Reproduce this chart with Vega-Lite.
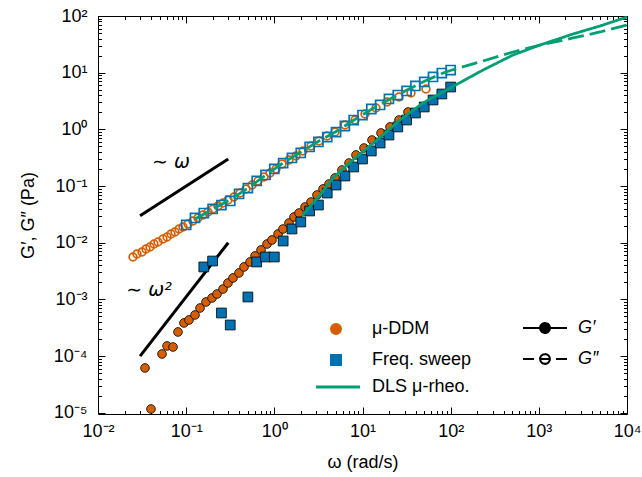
{
  "$schema": "https://vega.github.io/schema/vega-lite/v6.json",
  "width": 529,
  "height": 398,
  "autosize": "none",
  "padding": {"left": 98, "top": 16, "right": 15, "bottom": 63},
  "background": "white",
  "config": {
    "view": {"stroke": "black", "strokeWidth": 1},
    "font": "Liberation Sans",
    "axis": {"grid": false, "domain": false, "tickColor": "black", "tickWidth": 1, "labelColor": "black", "titleColor": "black", "labelFont": "Liberation Sans", "titleFont": "Liberation Sans", "titleFontWeight": "normal"}
  },
  "data": {"values": [
    {"s":"guide","m":"w1","w":0.03,"g":0.03},{"s":"guide","m":"w1","w":0.3,"g":0.3},
    {"s":"guide","m":"w2","w":0.03,"g":0.0001},{"s":"guide","m":"w2","w":0.3,"g":0.01},
    {"s":"label","t":"∼ ω","w":0.0673,"g":0.266},{"s":"label","t":"∼ ω²","w":0.0379,"g":0.00147},
    {"s":"μ-DDM","m":"G″","w":0.02495,"g":0.005598},{"s":"μ-DDM","m":"G″","w":0.02767,"g":0.006324},{"s":"μ-DDM","m":"G″","w":0.03155,"g":0.006855},{"s":"μ-DDM","m":"G″","w":0.03499,"g":0.007745},{"s":"μ-DDM","m":"G″","w":0.0389,"g":0.008395},{"s":"μ-DDM","m":"G″","w":0.04315,"g":0.009484},{"s":"μ-DDM","m":"G″","w":0.04786,"g":0.0103},{"s":"μ-DDM","m":"G″","w":0.05458,"g":0.01164},{"s":"μ-DDM","m":"G″","w":0.06067,"g":0.01262},{"s":"μ-DDM","m":"G″","w":0.0673,"g":0.01426},{"s":"μ-DDM","m":"G″","w":0.07464,"g":0.01545},{"s":"μ-DDM","m":"G″","w":0.08299,"g":0.01746},{"s":"μ-DDM","m":"G″","w":0.09204,"g":0.01892},{"s":"μ-DDM","m":"G″","w":0.105,"g":0.02138},{"s":"μ-DDM","m":"G″","w":0.1194,"g":0.02415},{"s":"μ-DDM","m":"G″","w":0.1361,"g":0.02729},{"s":"μ-DDM","m":"G″","w":0.1552,"g":0.03083},{"s":"μ-DDM","m":"G″","w":0.177,"g":0.03483},{"s":"μ-DDM","m":"G″","w":0.2014,"g":0.03936},{"s":"μ-DDM","m":"G″","w":0.2296,"g":0.04446},{"s":"μ-DDM","m":"G″","w":0.2618,"g":0.05023},{"s":"μ-DDM","m":"G″","w":0.2979,"g":0.05675},{"s":"μ-DDM","m":"G″","w":0.3483,"g":0.06412},{"s":"μ-DDM","m":"G″","w":0.4083,"g":0.07534},{"s":"μ-DDM","m":"G″","w":0.4775,"g":0.08872},{"s":"μ-DDM","m":"G″","w":0.5585,"g":0.1042},{"s":"μ-DDM","m":"G″","w":0.6531,"g":0.1227},{"s":"μ-DDM","m":"G″","w":0.7638,"g":0.1442},{"s":"μ-DDM","m":"G″","w":0.8933,"g":0.1698},{"s":"μ-DDM","m":"G″","w":1.045,"g":0.2},{"s":"μ-DDM","m":"G″","w":1.222,"g":0.2449},{"s":"μ-DDM","m":"G″","w":1.466,"g":0.2877},{"s":"μ-DDM","m":"G″","w":1.762,"g":0.3388},{"s":"μ-DDM","m":"G″","w":2.113,"g":0.415},{"s":"μ-DDM","m":"G″","w":2.606,"g":0.5082},{"s":"μ-DDM","m":"G″","w":3.214,"g":0.6237},{"s":"μ-DDM","m":"G″","w":3.954,"g":0.7638},{"s":"μ-DDM","m":"G″","w":4.875,"g":0.8974},{"s":"μ-DDM","m":"G″","w":6.324,"g":1.194},{"s":"μ-DDM","m":"G″","w":8.222,"g":1.462},{"s":"μ-DDM","m":"G″","w":10.67,"g":1.866},{"s":"μ-DDM","m":"G″","w":14.22,"g":2.382},{"s":"μ-DDM","m":"G″","w":18.97,"g":3.041},{"s":"μ-DDM","m":"G″","w":25.94,"g":3.724},{"s":"μ-DDM","m":"G″","w":35.48,"g":4.385},{"s":"μ-DDM","m":"G″","w":52.48,"g":5.152},
    {"s":"μ-DDM","m":"G′","w":0.03412,"g":0.00006166},{"s":"μ-DDM","m":"G′","w":0.0399,"g":0.00001164},{"s":"μ-DDM","m":"G′","w":0.05321,"g":0.0001089},{"s":"μ-DDM","m":"G′","w":0.06067,"g":0.0001507},{"s":"μ-DDM","m":"G′","w":0.07096,"g":0.0001445},{"s":"μ-DDM","m":"G′","w":0.08072,"g":0.0002661},{"s":"μ-DDM","m":"G′","w":0.09441,"g":0.0003837},{"s":"μ-DDM","m":"G′","w":0.1076,"g":0.0004335},{"s":"μ-DDM","m":"G′","w":0.1259,"g":0.0005309},{"s":"μ-DDM","m":"G′","w":0.1436,"g":0.0007047},{"s":"μ-DDM","m":"G′","w":0.1679,"g":0.0008995},{"s":"μ-DDM","m":"G′","w":0.1963,"g":0.001059},{"s":"μ-DDM","m":"G′","w":0.2239,"g":0.001245},{"s":"μ-DDM","m":"G′","w":0.2618,"g":0.001524},{"s":"μ-DDM","m":"G′","w":0.2979,"g":0.001945},{"s":"μ-DDM","m":"G′","w":0.3396,"g":0.002388},{"s":"μ-DDM","m":"G′","w":0.3972,"g":0.002924},{"s":"μ-DDM","m":"G′","w":0.4529,"g":0.003733},{"s":"μ-DDM","m":"G′","w":0.5297,"g":0.004571},{"s":"μ-DDM","m":"G′","w":0.6039,"g":0.005834},{"s":"μ-DDM","m":"G′","w":0.7063,"g":0.007447},{"s":"μ-DDM","m":"G′","w":0.826,"g":0.009484},{"s":"μ-DDM","m":"G′","w":0.9397,"g":0.01117},{"s":"μ-DDM","m":"G′","w":1.102,"g":0.01426},{"s":"μ-DDM","m":"G′","w":1.253,"g":0.01746},{"s":"μ-DDM","m":"G′","w":1.466,"g":0.02228},{"s":"μ-DDM","m":"G′","w":1.671,"g":0.02844},{"s":"μ-DDM","m":"G′","w":1.905,"g":0.03342},{"s":"μ-DDM","m":"G′","w":2.228,"g":0.04266},{"s":"μ-DDM","m":"G′","w":2.606,"g":0.05224},{"s":"μ-DDM","m":"G′","w":3.048,"g":0.0695},{"s":"μ-DDM","m":"G′","w":3.565,"g":0.08872},{"s":"μ-DDM","m":"G′","w":4.169,"g":0.1086},{"s":"μ-DDM","m":"G′","w":4.875,"g":0.1387},{"s":"μ-DDM","m":"G′","w":5.848,"g":0.1919},{"s":"μ-DDM","m":"G′","w":7.031,"g":0.2547},{"s":"μ-DDM","m":"G′","w":8.433,"g":0.3532},{"s":"μ-DDM","m":"G′","w":10.4,"g":0.4688},{"s":"μ-DDM","m":"G′","w":12.82,"g":0.6486},{"s":"μ-DDM","m":"G′","w":16.22,"g":0.863},{"s":"μ-DDM","m":"G′","w":20.51,"g":1.102},{"s":"μ-DDM","m":"G′","w":25.94,"g":1.462},{"s":"μ-DDM","m":"G′","w":32.81,"g":2.023},
    {"s":"Freq. sweep","m":"G″","w":0.1,"g":0.02056},{"s":"Freq. sweep","m":"G″","w":0.1259,"g":0.02729},{"s":"Freq. sweep","m":"G″","w":0.1585,"g":0.03342},{"s":"Freq. sweep","m":"G″","w":0.1995,"g":0.03936},{"s":"Freq. sweep","m":"G″","w":0.2512,"g":0.04624},{"s":"Freq. sweep","m":"G″","w":0.3162,"g":0.05445},{"s":"Freq. sweep","m":"G″","w":0.3981,"g":0.07244},{"s":"Freq. sweep","m":"G″","w":0.5012,"g":0.09226},{"s":"Freq. sweep","m":"G″","w":0.631,"g":0.1227},{"s":"Freq. sweep","m":"G″","w":0.7943,"g":0.1567},{"s":"Freq. sweep","m":"G″","w":1,"g":0.2},{"s":"Freq. sweep","m":"G″","w":1.259,"g":0.2547},{"s":"Freq. sweep","m":"G″","w":1.585,"g":0.3126},{"s":"Freq. sweep","m":"G″","w":1.995,"g":0.3828},{"s":"Freq. sweep","m":"G″","w":2.512,"g":0.4887},{"s":"Freq. sweep","m":"G″","w":3.162,"g":0.5984},{"s":"Freq. sweep","m":"G″","w":3.981,"g":0.7328},{"s":"Freq. sweep","m":"G″","w":5.012,"g":0.8974},{"s":"Freq. sweep","m":"G″","w":6.31,"g":1.146},{"s":"Freq. sweep","m":"G″","w":7.943,"g":1.462},{"s":"Freq. sweep","m":"G″","w":10,"g":1.791},{"s":"Freq. sweep","m":"G″","w":12.59,"g":2.286},{"s":"Freq. sweep","m":"G″","w":15.85,"g":2.692},{"s":"Freq. sweep","m":"G″","w":19.95,"g":3.436},{"s":"Freq. sweep","m":"G″","w":25.12,"g":4.036},{"s":"Freq. sweep","m":"G″","w":31.62,"g":4.753},{"s":"Freq. sweep","m":"G″","w":39.81,"g":5.821},{"s":"Freq. sweep","m":"G″","w":50.12,"g":6.855},{"s":"Freq. sweep","m":"G″","w":63.1,"g":8.395},{"s":"Freq. sweep","m":"G″","w":79.43,"g":9.863},{"s":"Freq. sweep","m":"G″","w":100,"g":11.14},
    {"s":"Freq. sweep","m":"G′","w":0.1585,"g":0.003733},{"s":"Freq. sweep","m":"G′","w":0.1995,"g":0.004753},{"s":"Freq. sweep","m":"G′","w":0.2512,"g":0.0005754},{"s":"Freq. sweep","m":"G′","w":0.3162,"g":0.0003532},{"s":"Freq. sweep","m":"G′","w":0.5012,"g":0.001102},{"s":"Freq. sweep","m":"G′","w":0.631,"g":0.004571},{"s":"Freq. sweep","m":"G′","w":0.7943,"g":0.005598},{"s":"Freq. sweep","m":"G′","w":1,"g":0.005598},{"s":"Freq. sweep","m":"G′","w":1.259,"g":0.01072},{"s":"Freq. sweep","m":"G′","w":1.585,"g":0.01746},{"s":"Freq. sweep","m":"G′","w":1.995,"g":0.02323},{"s":"Freq. sweep","m":"G′","w":2.512,"g":0.03631},{"s":"Freq. sweep","m":"G′","w":3.162,"g":0.04624},{"s":"Freq. sweep","m":"G′","w":3.981,"g":0.07534},{"s":"Freq. sweep","m":"G′","w":5.012,"g":0.1042},{"s":"Freq. sweep","m":"G′","w":6.31,"g":0.1503},{"s":"Freq. sweep","m":"G′","w":7.943,"g":0.2168},{"s":"Freq. sweep","m":"G′","w":10,"g":0.2999},{"s":"Freq. sweep","m":"G′","w":12.59,"g":0.415},{"s":"Freq. sweep","m":"G′","w":15.85,"g":0.5741},{"s":"Freq. sweep","m":"G′","w":19.95,"g":0.7943},{"s":"Freq. sweep","m":"G′","w":25.12,"g":1.102},{"s":"Freq. sweep","m":"G′","w":31.62,"g":1.462},{"s":"Freq. sweep","m":"G′","w":39.81,"g":1.945},{"s":"Freq. sweep","m":"G′","w":50.12,"g":2.483},{"s":"Freq. sweep","m":"G′","w":63.1,"g":3.296},{"s":"Freq. sweep","m":"G′","w":79.43,"g":4.207},{"s":"Freq. sweep","m":"G′","w":100,"g":5.585},
    {"s":"DLS μ-rheo.","m":"G′","w":2.061,"g":0.02958},{"s":"DLS μ-rheo.","m":"G′","w":2.344,"g":0.03776},{"s":"DLS μ-rheo.","m":"G′","w":3.296,"g":0.0695},{"s":"DLS μ-rheo.","m":"G′","w":4.624,"g":0.1387},{"s":"DLS μ-rheo.","m":"G′","w":8.222,"g":0.3126},{"s":"DLS μ-rheo.","m":"G′","w":14.59,"g":0.6486},{"s":"DLS μ-rheo.","m":"G′","w":26.61,"g":1.462},{"s":"DLS μ-rheo.","m":"G′","w":48.53,"g":2.917},{"s":"DLS μ-rheo.","m":"G′","w":103.5,"g":5.585},{"s":"DLS μ-rheo.","m":"G′","w":232.8,"g":11.14},{"s":"DLS μ-rheo.","m":"G′","w":509.3,"g":20.51},{"s":"DLS μ-rheo.","m":"G′","w":1030,"g":30.76},{"s":"DLS μ-rheo.","m":"G′","w":2438,"g":48.08},{"s":"DLS μ-rheo.","m":"G′","w":4943,"g":66.68},{"s":"DLS μ-rheo.","m":"G′","w":10000,"g":95.94},
    {"s":"DLS μ-rheo.","m":"G″","w":0.1259,"g":0.02624},{"s":"DLS μ-rheo.","m":"G″","w":0.2014,"g":0.03936},{"s":"DLS μ-rheo.","m":"G″","w":0.3141,"g":0.05675},{"s":"DLS μ-rheo.","m":"G″","w":0.5023,"g":0.09226},{"s":"DLS μ-rheo.","m":"G″","w":0.8035,"g":0.1567},{"s":"DLS μ-rheo.","m":"G″","w":1.253,"g":0.2547},{"s":"DLS μ-rheo.","m":"G″","w":2.004,"g":0.399},{"s":"DLS μ-rheo.","m":"G″","w":3.214,"g":0.6237},{"s":"DLS μ-rheo.","m":"G″","w":5.14,"g":0.9354},{"s":"DLS μ-rheo.","m":"G″","w":8,"g":1.462},{"s":"DLS μ-rheo.","m":"G″","w":12.82,"g":2.286},{"s":"DLS μ-rheo.","m":"G″","w":20.51,"g":3.436},{"s":"DLS μ-rheo.","m":"G″","w":31.99,"g":4.943},{"s":"DLS μ-rheo.","m":"G″","w":51.17,"g":7.129},{"s":"DLS μ-rheo.","m":"G″","w":81.85,"g":9.863},{"s":"DLS μ-rheo.","m":"G″","w":103.5,"g":11.14},{"s":"DLS μ-rheo.","m":"G″","w":232.8,"g":16.07},{"s":"DLS μ-rheo.","m":"G″","w":509.3,"g":23.17},{"s":"DLS μ-rheo.","m":"G″","w":1030,"g":30.76},{"s":"DLS μ-rheo.","m":"G″","w":2438,"g":40.93},{"s":"DLS μ-rheo.","m":"G″","w":4943,"g":52.24},{"s":"DLS μ-rheo.","m":"G″","w":10000,"g":69.34}
  ]},
  "resolve": {"axis": {"x": "independent", "y": "independent"}},
  "layer": [
    {
      "transform": [{"filter": "datum.s === 'guide'"}],
      "mark": {"type": "line", "color": "black", "strokeWidth": 3},
      "encoding": {
        "x": {"field": "w", "type": "quantitative", "scale": {"type": "log", "domain": [0.01, 10000], "nice": false},
          "axis": {"orient": "bottom", "title": "ω (rad/s)", "titleFontSize": 18, "titlePadding": 10,
            "values": [0.01,0.02,0.03,0.04,0.05,0.06,0.07,0.08,0.09,0.1,0.2,0.3,0.4,0.5,0.6,0.7,0.8,0.9,1,2,3,4,5,6,7,8,9,10,20,30,40,50,60,70,80,90,100,200,300,400,500,600,700,800,900,1000,2000,3000,4000,5000,6000,7000,8000,9000,10000],
            "labelExpr": "abs(log(datum.value)/LN10 - round(log(datum.value)/LN10)) < 0.001 ? ['10⁻⁵','10⁻⁴','10⁻³','10⁻²','10⁻¹','10⁰','10¹','10²','10³','10⁴'][round(log(datum.value)/LN10)+5] : ''",
            "labelOverlap": false, "labelFlush": false, "labelFontSize": 18, "labelPadding": 15,
            "tickSize": {"condition": {"test": "abs(log(datum.value)/LN10 - round(log(datum.value)/LN10)) < 0.001", "value": -7}, "value": -3.5}}},
        "y": {"field": "g", "type": "quantitative", "scale": {"type": "log", "domain": [0.0000095, 100], "nice": false},
          "axis": {"orient": "left", "title": "G′, G″ (Pa)", "titleFontSize": 18, "titlePadding": 16,
            "values": [0.00001,0.00002,0.00003,0.00004,0.00005,0.00006,0.00007,0.00008,0.00009,0.0001,0.0002,0.0003,0.0004,0.0005,0.0006,0.0007,0.0008,0.0009,0.001,0.002,0.003,0.004,0.005,0.006,0.007,0.008,0.009,0.01,0.02,0.03,0.04,0.05,0.06,0.07,0.08,0.09,0.1,0.2,0.3,0.4,0.5,0.6,0.7,0.8,0.9,1,2,3,4,5,6,7,8,9,10,20,30,40,50,60,70,80,90,100],
            "labelExpr": "abs(log(datum.value)/LN10 - round(log(datum.value)/LN10)) < 0.001 ? ['10⁻⁵','10⁻⁴','10⁻³','10⁻²','10⁻¹','10⁰','10¹','10²','10³','10⁴'][round(log(datum.value)/LN10)+5] : ''",
            "labelOverlap": false, "labelFlush": false, "labelFontSize": 18, "labelPadding": 18,
            "tickSize": {"condition": {"test": "abs(log(datum.value)/LN10 - round(log(datum.value)/LN10)) < 0.001", "value": -7}, "value": -3.5}}},
        "detail": {"field": "m"}
      }
    },
    {
      "transform": [{"filter": "datum.s === 'label'"}],
      "mark": {"type": "text", "fontSize": 19, "font": "DejaVu Sans", "fontStyle": "italic", "color": "black"},
      "encoding": {
        "x": {"field": "w", "type": "quantitative",
          "axis": {"orient": "top", "title": null, "labels": false,
            "values": [0.01,0.02,0.03,0.04,0.05,0.06,0.07,0.08,0.09,0.1,0.2,0.3,0.4,0.5,0.6,0.7,0.8,0.9,1,2,3,4,5,6,7,8,9,10,20,30,40,50,60,70,80,90,100,200,300,400,500,600,700,800,900,1000,2000,3000,4000,5000,6000,7000,8000,9000,10000],
            "tickSize": {"condition": {"test": "abs(log(datum.value)/LN10 - round(log(datum.value)/LN10)) < 0.001", "value": -7}, "value": -3.5}}},
        "y": {"field": "g", "type": "quantitative",
          "axis": {"orient": "right", "title": null, "labels": false,
            "values": [0.00001,0.00002,0.00003,0.00004,0.00005,0.00006,0.00007,0.00008,0.00009,0.0001,0.0002,0.0003,0.0004,0.0005,0.0006,0.0007,0.0008,0.0009,0.001,0.002,0.003,0.004,0.005,0.006,0.007,0.008,0.009,0.01,0.02,0.03,0.04,0.05,0.06,0.07,0.08,0.09,0.1,0.2,0.3,0.4,0.5,0.6,0.7,0.8,0.9,1,2,3,4,5,6,7,8,9,10,20,30,40,50,60,70,80,90,100],
            "tickSize": {"condition": {"test": "abs(log(datum.value)/LN10 - round(log(datum.value)/LN10)) < 0.001", "value": -7}, "value": -3.5}}},
        "text": {"field": "t"}
      }
    },
    {
      "transform": [{"filter": "datum.s === 'μ-DDM' && datum.m === 'G″'"}],
      "mark": {"type": "point", "filled": false, "strokeWidth": 1.7, "size": 60, "opacity": 1},
      "encoding": {
        "x": {"field": "w", "type": "quantitative", "axis": null},
        "y": {"field": "g", "type": "quantitative", "axis": null},
        "color": {"field": "s", "type": "nominal", "scale": {"domain": ["μ-DDM", "Freq. sweep"], "range": ["#D55E00", "#0072B2"]},
          "legend": {"title": null, "orient": "none", "legendX": 229, "legendY": 304, "padding": 0, "symbolOffset": 0, "labelOffset": 27, "rowPadding": 13, "labelFontSize": 18, "labelColor": "black", "symbolSize": 110,
            "encode": {"symbols": {"update": {"fill": {"scale": "color", "field": "value"}, "stroke": {"value": "transparent"}, "opacity": {"value": 1}}}}}},
        "shape": {"field": "s", "type": "nominal", "scale": {"domain": ["μ-DDM", "Freq. sweep"], "range": ["circle", "square"]},
          "legend": {"title": null, "orient": "none", "legendX": 229, "legendY": 304, "padding": 0, "symbolOffset": 0, "labelOffset": 27, "rowPadding": 13, "labelFontSize": 18, "labelColor": "black", "symbolSize": 110}}
      }
    },
    {
      "transform": [{"filter": "datum.s === 'μ-DDM' && datum.m === 'G′'"}],
      "mark": {"type": "point", "filled": true, "stroke": "black", "strokeWidth": 0.8, "size": 76, "opacity": 1},
      "encoding": {
        "x": {"field": "w", "type": "quantitative", "axis": null},
        "y": {"field": "g", "type": "quantitative", "axis": null},
        "color": {"field": "s", "type": "nominal"},
        "shape": {"field": "s", "type": "nominal"}
      }
    },
    {
      "transform": [{"filter": "datum.s === 'Freq. sweep' && datum.m === 'G″'"}],
      "mark": {"type": "point", "filled": false, "strokeWidth": 1.7, "size": 82, "opacity": 1},
      "encoding": {
        "x": {"field": "w", "type": "quantitative", "axis": null},
        "y": {"field": "g", "type": "quantitative", "axis": null},
        "color": {"field": "s", "type": "nominal"},
        "shape": {"field": "s", "type": "nominal"}
      }
    },
    {
      "transform": [{"filter": "datum.s === 'Freq. sweep' && datum.m === 'G′'"}],
      "mark": {"type": "point", "filled": true, "stroke": "black", "strokeWidth": 0.8, "size": 96, "opacity": 1},
      "encoding": {
        "x": {"field": "w", "type": "quantitative", "axis": null},
        "y": {"field": "g", "type": "quantitative", "axis": null},
        "color": {"field": "s", "type": "nominal"},
        "shape": {"field": "s", "type": "nominal"}
      }
    },
    {
      "transform": [{"filter": "datum.s === 'DLS μ-rheo.'"}],
      "mark": {"type": "line", "strokeWidth": 2.8, "clip": true},
      "encoding": {
        "x": {"field": "w", "type": "quantitative", "axis": null},
        "y": {"field": "g", "type": "quantitative", "axis": null},
        "stroke": {"field": "s", "type": "nominal", "scale": {"domain": ["DLS μ-rheo."], "range": ["#009E73"]},
          "legend": {"title": null, "orient": "none", "legendX": 231, "legendY": 362, "padding": 0, "symbolOffset": 0, "labelOffset": 25, "symbolType": "M-3,0L3,0", "symbolSize": 215, "symbolStrokeWidth": 2.8, "labelFontSize": 18, "labelColor": "black"}},
        "strokeDash": {"field": "m", "type": "nominal", "scale": {"domain": ["G′", "G″"], "range": [[1, 0], [16, 6]]},
          "legend": {"title": null, "orient": "none", "legendX": 438, "legendY": 303, "padding": 0, "symbolOffset": 0, "labelOffset": 24, "rowPadding": 11,
            "symbolType": "M-3,0L3,0", "symbolSize": 215, "symbolStrokeWidth": 2.2, "symbolStrokeColor": "black",
            "labelFontSize": 18, "labelFontStyle": "italic", "labelColor": "black",
            "encode": {"symbols": {"update": {
              "shape": {"signal": "datum.value === 'G′' ? 'M-3,0L3,0M0.66,0A0.66,0.66,0,1,1,-0.66,0A0.66,0.66,0,1,1,0.66,0' : 'M-3,0L-1.5,0M1.5,0L3,0M-0.66,0L0.66,0M0.66,0A0.66,0.66,0,1,1,-0.66,0A0.66,0.66,0,1,1,0.66,0M-0.66,0A0.66,0.66,0,1,1,0.66,0A0.66,0.66,0,1,1,-0.66,0'"},
              "fill": {"signal": "datum.value === 'G′' ? 'black' : 'white'"}, "stroke": {"value": "black"}, "opacity": {"value": 1}}}}}},
        "order": {"field": "w", "type": "quantitative"}
      }
    }
  ]
}
